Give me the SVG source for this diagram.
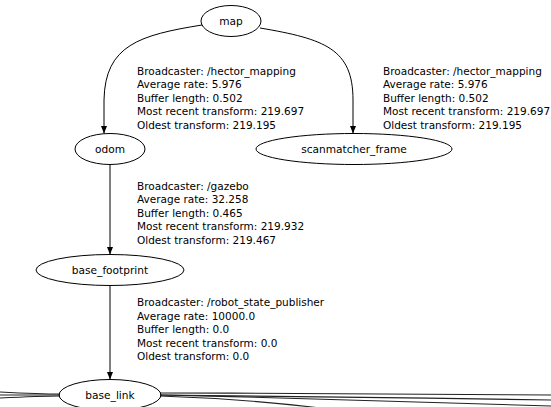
<svg xmlns="http://www.w3.org/2000/svg" width="551" height="407" viewBox="0 0 551 407">
<style>
.node ellipse{fill:none;stroke:#000;stroke-width:1}
.node text{font-family:"DejaVu Sans",sans-serif;font-size:10.6px;text-anchor:middle;fill:#000}
.edge{fill:none;stroke:#000;stroke-width:1}
.lbl{font-family:"DejaVu Sans",sans-serif;font-size:10.5px;fill:#000}
.fan{fill:none;stroke:#222;stroke-width:1.1}
</style>
<defs>
<marker id="ah" viewBox="0 0 10 10" refX="10" refY="5" markerWidth="8" markerHeight="8" markerUnits="userSpaceOnUse" orient="auto">
<path d="M0,1 L10,5 L0,9 Z" fill="#000"/>
</marker>
</defs>
<rect width="551" height="407" fill="#fff"/>
<g id="connectors">
<path class="edge" d="M202,25 C140,35 105,45 104,100 L104,133.5" marker-end="url(#ah)"/>
<path class="edge" d="M260,28 C325,39 353,49 353,100 L353,133.5" marker-end="url(#ah)"/>
<path class="edge" d="M110,164.5 L110,254.5" marker-end="url(#ah)"/>
<path class="edge" d="M110,285.5 L110,379.5" marker-end="url(#ah)"/>
<path class="fan" d="M0,392 C20,393 40,394 60,394"/>
<path class="fan" d="M0,395 L60,395"/>
<path class="fan" d="M0,398 C20,397 40,396 60,396"/>
<path class="fan" d="M160,393 C300,393 450,394 551,395"/>
<path class="fan" d="M160,395 C280,396 420,398 551,400"/>
<path class="fan" d="M160,396 C220,398 270,402 320,408"/>
<path class="fan" d="M160,395 C300,398 450,402 551,406"/>
<g class="lbl">
<text x="137" y="74.5">Broadcaster: /hector_mapping</text>
<text x="137" y="88">Average rate: 5.976</text>
<text x="137" y="101.5">Buffer length: 0.502</text>
<text x="137" y="115">Most recent transform: 219.697</text>
<text x="137" y="128.5">Oldest transform: 219.195</text>
<text x="383" y="74.5">Broadcaster: /hector_mapping</text>
<text x="383" y="88">Average rate: 5.976</text>
<text x="383" y="101.5">Buffer length: 0.502</text>
<text x="383" y="115">Most recent transform: 219.697</text>
<text x="383" y="128.5">Oldest transform: 219.195</text>
<text x="137" y="189.5">Broadcaster: /gazebo</text>
<text x="137" y="203">Average rate: 32.258</text>
<text x="137" y="216.5">Buffer length: 0.465</text>
<text x="137" y="230">Most recent transform: 219.932</text>
<text x="137" y="243.5">Oldest transform: 219.467</text>
<text x="137" y="306">Broadcaster: /robot_state_publisher</text>
<text x="137" y="319.5">Average rate: 10000.0</text>
<text x="137" y="333">Buffer length: 0.0</text>
<text x="137" y="346.5">Most recent transform: 0.0</text>
<text x="137" y="360">Oldest transform: 0.0</text>
</g>
</g>
<g id="map" class="node"><ellipse cx="231" cy="21" rx="30" ry="15.5"/><text x="231" y="25">map</text></g>
<g id="odom" class="node"><ellipse cx="110" cy="149" rx="35" ry="15.5"/><text x="110" y="153">odom</text></g>
<g id="scanmatcher_frame" class="node"><ellipse cx="354" cy="149" rx="98" ry="15.5"/><text x="354" y="153">scanmatcher_frame</text></g>
<g id="base_footprint" class="node"><ellipse cx="110" cy="270" rx="74" ry="15.5"/><text x="110" y="274">base_footprint</text></g>
<g id="base_link" class="node"><ellipse cx="110" cy="395" rx="51" ry="15.5"/><text x="110" y="399">base_link</text></g>
</svg>
